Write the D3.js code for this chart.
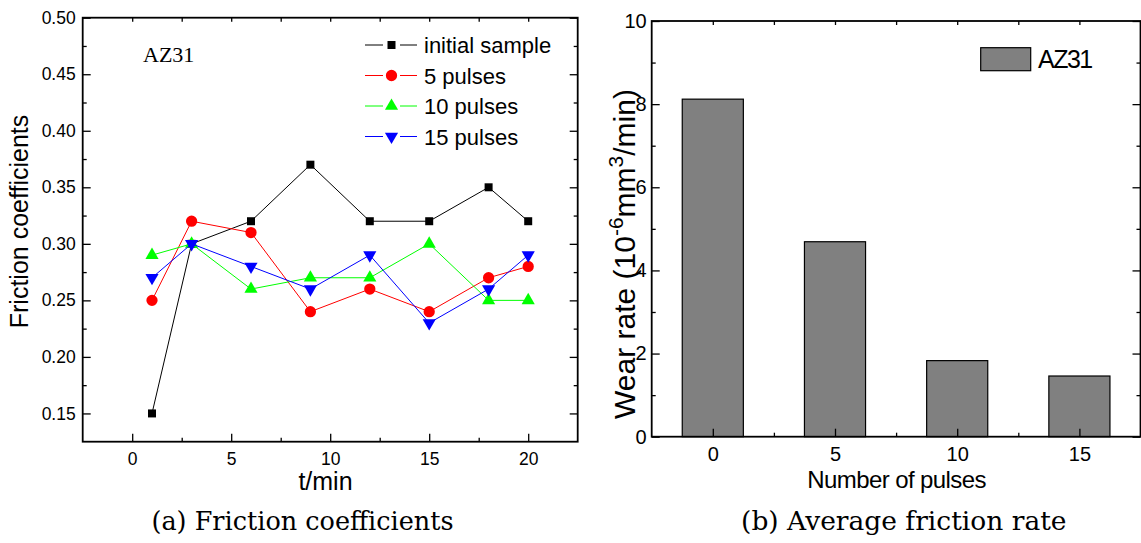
<!DOCTYPE html>
<html>
<head>
<meta charset="utf-8">
<script src="https://cdn.jsdelivr.net/npm/d3@7"></script>
<style>
  body { margin: 0; background: #fff; }
  svg { display: block; }
  .tick text { font-family: "Liberation Sans", Arial, sans-serif; fill: #000; }
  .tick line { stroke: #000; stroke-width: 1.3; }
  .domain { display: none; }
</style>
</head>
<body>
<svg id="svg" width="1141" height="543"></svg>
<script>
const SVG = d3.select("#svg");

// (a) friction coefficients
const times = [1, 3, 6, 9, 12, 15, 18, 20];
const initialSample = [0.15, 0.30, 0.32, 0.37, 0.32, 0.32, 0.35, 0.32];
const pulses5 = [0.25, 0.32, 0.31, 0.24, 0.26, 0.24, 0.27, 0.28];
const pulses10 = [0.29, 0.30, 0.26, 0.27, 0.27, 0.30, 0.25, 0.25];
const pulses15 = [0.27, 0.30, 0.28, 0.26, 0.29, 0.23, 0.26, 0.29];
const seriesNames = ["initial sample", "5 pulses", "10 pulses", "15 pulses"];
const timeTicks = [0, 5, 10, 15, 20];
const frictionTicks = [0.15, 0.20, 0.25, 0.30, 0.35, 0.40, 0.45, 0.50];

// (b) wear rate
const pulseCounts = [0, 5, 10, 15];
const wearRates = [8.12, 4.69, 1.83, 1.46];
const wearTicks = [0, 2, 4, 6, 8, 10];

SVG.append("rect").attr("width", 1141).attr("height", 543).attr("fill", "#fff");

function minorOf(ticks) {
  var out = [];
  for (var i = 0; i < ticks.length - 1; i++) out.push((ticks[i] + ticks[i + 1]) / 2);
  return out;
}

// draws the boxed frame with inward ticks on all four sides
function frame(g, x, y, xt, xm, yt, ym, fs, fmt, xpad, ypad) {
  var [x0, x1] = x.range(), [y0, y1] = y.range();
  g.append("g").attr("transform", `translate(0,${y0})`)
    .call(d3.axisBottom(x).tickValues(xt).tickSize(-8).tickPadding(xpad))
    .selectAll("text").style("font-size", fs + "px");
  g.append("g").attr("transform", `translate(0,${y0})`)
    .call(d3.axisBottom(x).tickValues(xm).tickSize(-4).tickFormat(""));
  g.append("g").attr("transform", `translate(0,${y1})`)
    .call(d3.axisTop(x).tickValues(xt.concat(xm)).tickSize(-4).tickFormat(""));
  g.append("g").attr("transform", `translate(${x0},0)`)
    .call(d3.axisLeft(y).tickValues(yt).tickSize(-8).tickPadding(ypad).tickFormat(fmt))
    .selectAll("text").style("font-size", fs + "px");
  g.append("g").attr("transform", `translate(${x0},0)`)
    .call(d3.axisLeft(y).tickValues(ym).tickSize(-4).tickFormat(""));
  g.append("g").attr("transform", `translate(${x1},0)`)
    .call(d3.axisRight(y).tickValues(yt).tickSize(-8).tickFormat(""));
  g.append("g").attr("transform", `translate(${x1},0)`)
    .call(d3.axisRight(y).tickValues(ym).tickSize(-4).tickFormat(""));
  g.append("rect")
    .attr("x", x0).attr("y", y1)
    .attr("width", x1 - x0).attr("height", y0 - y1)
    .attr("fill", "none").attr("stroke", "#000").attr("stroke-width", 1.8);
}

// ---------- left chart ----------
var xa = d3.scaleLinear().domain([-2.5, 22.5]).range([82.7, 577.7]),
  ya = d3.scaleLinear().domain([0.125, 0.5]).range([441.7, 17.7]);
var ga = SVG.append("g");

var series = [initialSample, pulses5, pulses10, pulses15],
  colors = ["#000000", "#ff0000", "#00ff00", "#0000ff"],
  symbols = [
    d3.symbol().type(d3.symbolSquare).size(64),
    d3.symbol().type(d3.symbolCircle).size(100),
    d3.symbol().type(d3.symbolTriangle).size(75),
    d3.symbol().type(d3.symbolTriangle).size(75)
  ],
  rot = [0, 0, 0, 180];

var line = d3.line().x((d, i) => xa(times[i])).y(d => ya(d));
series.forEach(function (s, k) {
  ga.append("path").attr("d", line(s))
    .attr("fill", "none").attr("stroke", colors[k]).attr("stroke-width", 1);
  ga.selectAll(null).data(s).enter().append("path")
    .attr("d", symbols[k])
    .attr("transform", (d, i) => `translate(${xa(times[i])},${ya(d)}) rotate(${rot[k]})`)
    .attr("fill", colors[k]);
});

frame(ga, xa, ya, timeTicks, minorOf(timeTicks), frictionTicks,
  minorOf(frictionTicks), 17.5, d3.format(".2f"), 11, 7);

// legend
seriesNames.forEach(function (name, k) {
  var ly = 45 + k * 30.5;
  ga.append("line").attr("x1", 365).attr("x2", 383).attr("y1", ly).attr("y2", ly)
    .attr("stroke", colors[k]).attr("stroke-width", 1);
  ga.append("line").attr("x1", 400).attr("x2", 417).attr("y1", ly).attr("y2", ly)
    .attr("stroke", colors[k]).attr("stroke-width", 1);
  ga.append("path").attr("d", symbols[k])
    .attr("transform", `translate(391.5,${ly}) rotate(${rot[k]})`)
    .attr("fill", colors[k]);
  ga.append("text").attr("x", 424).attr("y", ly + 8)
    .style("font-family", "Liberation Sans, Arial, sans-serif")
    .style("font-size", "22px").text(name);
});

ga.append("text").attr("x", 143).attr("y", 62)
  .style("font-family", "Liberation Serif, Times New Roman, serif")
  .style("font-size", "22px").text("AZ31");

ga.append("text")
  .attr("transform", "translate(28,221.5) rotate(-90)")
  .attr("text-anchor", "middle")
  .style("font-family", "Liberation Sans, Arial, sans-serif")
  .style("font-size", "25px").text("Friction coefficients");

ga.append("text").attr("x", 325.5).attr("y", 490)
  .attr("text-anchor", "middle")
  .style("font-family", "Liberation Sans, Arial, sans-serif")
  .style("font-size", "25px").text("t/min");

ga.append("text").attr("x", 302.5).attr("y", 530)
  .attr("text-anchor", "middle")
  .style("font-family", "DejaVu Serif, serif")
  .style("font-size", "25.5px")
  .text("(a) Friction coefficients");

// ---------- right chart ----------
var xb = d3.scaleLinear().domain([-2.5, 17.5]).range([651.7, 1140.5]),
  yb = d3.scaleLinear().domain([0, 10]).range([436.7, 21]);
var gb = SVG.append("g");

gb.selectAll(null).data(wearRates).enter().append("rect")
  .attr("x", (d, i) => xb(pulseCounts[i] - 1.25))
  .attr("width", (d, i) => xb(pulseCounts[i] + 1.25) - xb(pulseCounts[i] - 1.25))
  .attr("y", d => yb(d))
  .attr("height", d => yb(0) - yb(d))
  .attr("fill", "#808080").attr("stroke", "#000").attr("stroke-width", 1.2);

frame(gb, xb, yb, pulseCounts, minorOf(pulseCounts), wearTicks,
  minorOf(wearTicks), 20, d3.format("d"), 10, 5);

gb.append("rect").attr("x", 980.7).attr("y", 47.7).attr("width", 50).attr("height", 23)
  .attr("fill", "#808080").attr("stroke", "#000").attr("stroke-width", 1.2);
gb.append("text").attr("x", 1038).attr("y", 68.3)
  .style("font-family", "Liberation Sans, Arial, sans-serif")
  .style("font-size", "25px").style("letter-spacing", "-1.5px").text("AZ31");

var wl = gb.append("text")
  .attr("transform", "translate(635,254) rotate(-90)")
  .attr("text-anchor", "middle")
  .style("font-family", "Liberation Sans, Arial, sans-serif")
  .style("font-size", "30px");
wl.append("tspan").text("Wear rate (10");
wl.append("tspan").attr("dy", -12).style("font-size", "21px").text("-6");
wl.append("tspan").attr("dy", 12).text("mm");
wl.append("tspan").attr("dy", -12).style("font-size", "21px").text("3");
wl.append("tspan").attr("dy", 12).text("/min)");

gb.append("text").attr("x", 896.6).attr("y", 488)
  .attr("text-anchor", "middle")
  .style("font-family", "Liberation Sans, Arial, sans-serif")
  .style("font-size", "24px").style("letter-spacing", "-0.6px")
  .text("Number of pulses");

gb.append("text").attr("x", 903.8).attr("y", 530)
  .attr("text-anchor", "middle")
  .style("font-family", "DejaVu Serif, serif")
  .style("font-size", "26.5px")
  .text("(b) Average friction rate");
</script>
</body>
</html>
